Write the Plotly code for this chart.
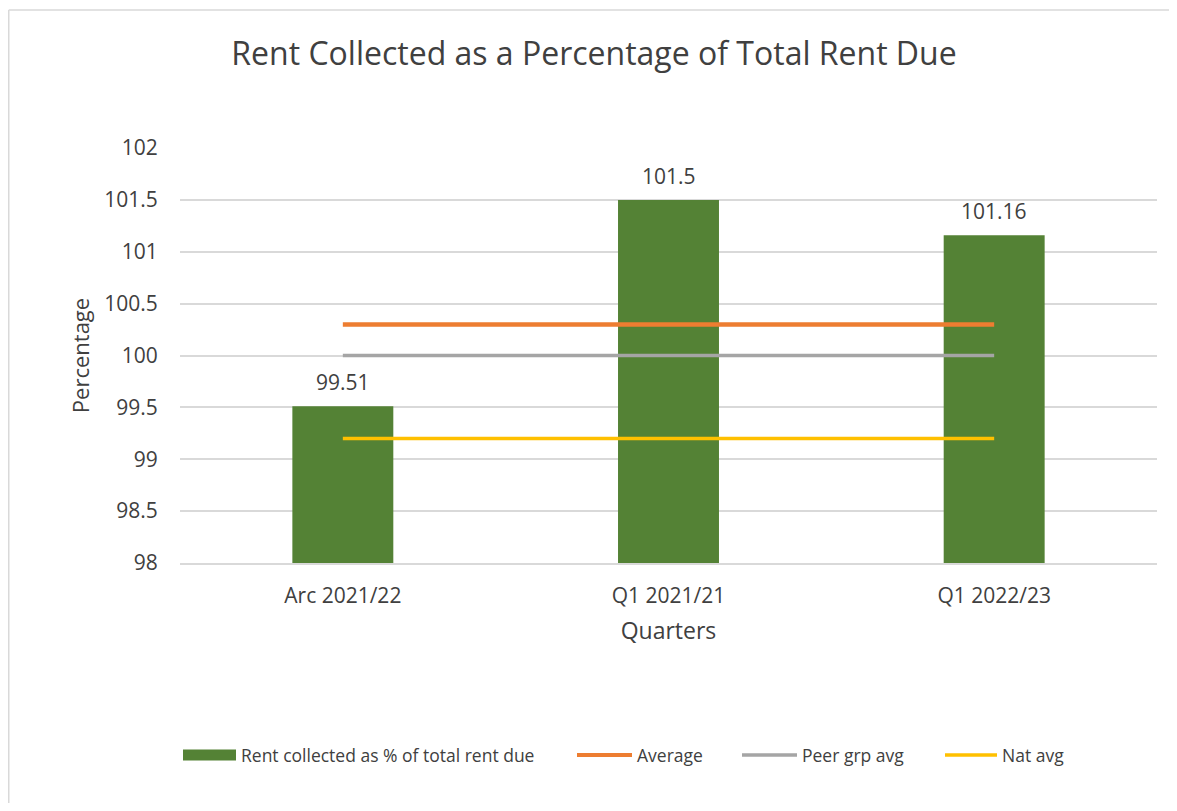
import plotly.graph_objects as go

categories = ["Arc 2021/22", "Q1 2021/21", "Q1 2022/23"]
rent_collected = [99.51, 101.5, 101.16]
average = [100.3, 100.3, 100.3]
peer_grp_avg = [100.0, 100.0, 100.0]
nat_avg = [99.2, 99.2, 99.2]
y_ticks = [98, 98.5, 99, 99.5, 100, 100.5, 101, 101.5, 102]

series_names = ["Rent collected as % of total rent due", "Average", "Peer grp avg", "Nat avg"]
series_colors = ["#548235", "#ED7D31", "#A5A5A5", "#FFC000"]

FONT = "Open Sans"
TXT = "#404040"

# figure geometry (page is offset by the 8px body margin)
W, H = 1161, 795
L, T = 172, 140
PW, PH = 977, 415
R = W - L - PW
B = H - T - PH


def px(x):  # figure pixel x -> paper x
    return (x - L) / PW


def py(y):  # figure pixel y -> paper y
    return (T + PH - y) / PH


fig = go.Figure()
fig.add_trace(go.Bar(
    x=categories, y=rent_collected, name=series_names[0],
    marker=dict(color=series_colors[0], line=dict(width=0)), width=0.31,
))
for vals, name, col, w in [(average, series_names[1], series_colors[1], 4.5),
                           (peer_grp_avg, series_names[2], series_colors[2], 3.5),
                           (nat_avg, series_names[3], series_colors[3], 3.5)]:
    fig.add_trace(go.Scatter(x=categories, y=vals, name=name, mode="lines",
                             line=dict(color=col, width=w)))

annotations = []
for c, v in zip(categories, rent_collected):
    annotations.append(dict(x=c, y=v, xref="x", yref="y", text=f"{v:g}", showarrow=False,
                            yshift=24, yanchor="middle",
                            font=dict(family=FONT, size=21, color=TXT)))

# chart frame (only top and left edges visible in the reference)
shapes = [
    dict(type="line", xref="paper", yref="paper", x0=px(0.75), x1=px(W), y0=py(2), y1=py(2),
         line=dict(color="#D9D9D9", width=1.5), layer="below"),
    dict(type="line", xref="paper", yref="paper", x0=px(0.75), x1=px(0.75), y0=py(2), y1=py(H),
         line=dict(color="#D9D9D9", width=1.5), layer="below"),
]

# manual legend
leg_y = 747
swatch_x = [(175, 228), (569, 624), (734, 789), (937, 989)]
text_x = [231, 627, 792, 992]
for i, name in enumerate(series_names):
    x0, x1 = swatch_x[i]
    if i == 0:
        shapes.append(dict(type="rect", xref="paper", yref="paper",
                           x0=px(x0), x1=px(x1), y0=py(leg_y + 5.5), y1=py(leg_y - 5.5),
                           fillcolor=series_colors[i], line=dict(width=0)))
    else:
        shapes.append(dict(type="line", xref="paper", yref="paper",
                           x0=px(x0), x1=px(x1), y0=py(leg_y), y1=py(leg_y),
                           line=dict(color=series_colors[i], width=4 if i == 1 else 3.5)))
    annotations.append(dict(x=px(text_x[i]), y=py(leg_y), xref="paper", yref="paper",
                            text=name, showarrow=False, xanchor="left", yanchor="middle",
                            font=dict(family=FONT, size=17.5, color=TXT)))

fig.update_layout(
    width=W, height=H,
    margin=dict(l=L, r=R, t=T, b=B),
    paper_bgcolor="white", plot_bgcolor="white",
    font=dict(family=FONT, color=TXT),
    title=dict(text="Rent Collected as a Percentage of Total Rent Due",
               x=px(586), xanchor="center", xref="paper", y=1 - 46 / H, yanchor="middle",
               font=dict(family=FONT, size=32, color=TXT)),
    showlegend=False,
    bargap=0.69,
    shapes=shapes,
    annotations=annotations,
)
fig.update_yaxes(range=[98, 102], tickvals=y_ticks, ticktext=[f"{v:g}" for v in y_ticks],
                 showgrid=True, gridcolor="#D9D9D9", gridwidth=1.5, zeroline=False,
                 showline=False, ticks="outside", ticklen=17, tickcolor="rgba(0,0,0,0)",
                 tickfont=dict(family=FONT, size=21, color=TXT),
                 title=dict(text="Percentage", standoff=8,
                            font=dict(family=FONT, size=22, color=TXT)))
fig.update_xaxes(showgrid=False, showline=True, linecolor="#D9D9D9", linewidth=1.5,
                 ticks="outside", ticklen=13, tickcolor="rgba(0,0,0,0)",
                 tickfont=dict(family=FONT, size=21, color=TXT),
                 title=dict(text="Quarters", standoff=15,
                            font=dict(family=FONT, size=23, color=TXT)))

fig.write_html("out.html")
